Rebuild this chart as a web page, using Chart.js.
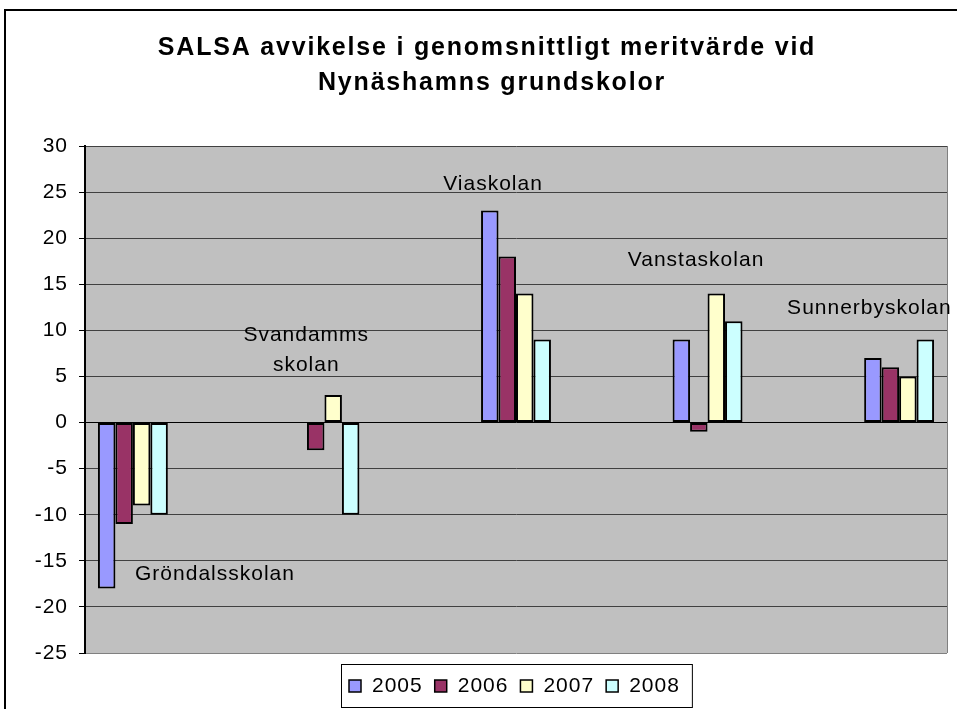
<!DOCTYPE html>
<html>
<head>
<meta charset="utf-8">
<script src="https://cdn.jsdelivr.net/npm/chart.js@4.4.1/dist/chart.umd.min.js"></script>
<style>
  html, body { margin: 0; padding: 0; background: #fff; }
  #wrap { width: 957px; height: 709px; }
</style>
</head>
<body>
<div id="wrap"><canvas id="c" width="957" height="709"></canvas></div>
<script>
// ---- data ----
const titleLines = ['SALSA avvikelse i genomsnittligt meritvärde vid', 'Nynäshamns grundskolor'];
const categories = ['Gröndalsskolan', '', 'Svandammsskolan', '', 'Viaskolan', '', 'Vanstaskolan', '', 'Sunnerbyskolan'];
const seriesNames = ['2005', '2006', '2007', '2008'];
const values2005 = [-18, null, null, null, 23, null, 9, null, 7];
const values2006 = [-11, null, -3, null, 18, null, -1, null, 6];
const values2007 = [-9, null, 3, null, 14, null, 14, null, 5];
const values2008 = [-10, null, -10, null, 9, null, 11, null, 9];
const yMin = -25, yMax = 30, yStep = 5;

// in-plot category labels (text lines, anchor category, offset in category units, y values of line centres)
const plotLabels = [
  { lines: ['Gröndalsskolan'], cat: 0, dx: 0.857, y: [-16.5] },
  { lines: ['Svandamms', 'skolan'], cat: 2, dx: -0.19, y: [9.5, 6.2] },
  { lines: ['Viaskolan'], cat: 4, dx: -0.24, y: [25.9] },
  { lines: ['Vanstaskolan'], cat: 6, dx: -0.12, y: [17.6] },
  { lines: ['Sunnerbyskolan'], cat: 8, dx: -0.31, y: [12.4] }
];

const colors = ['#9999FF', '#993366', '#FFFFCC', '#CCFFFF'];
const FONT = "'Liberation Sans', Arial, sans-serif";

const decor = {
  id: 'decor',
  beforeDraw(chart) {
    const ctx = chart.ctx, a = chart.chartArea;
    ctx.save();
    ctx.fillStyle = '#fff';
    ctx.fillRect(0, 0, chart.width, chart.height);
    ctx.fillStyle = '#C0C0C0';
    ctx.fillRect(a.left, a.top, a.right - a.left, a.bottom - a.top);
    ctx.restore();
    ctx.letterSpacing = '1px';
  },
  beforeDatasetsDraw(chart) {
    const ctx = chart.ctx, a = chart.chartArea;
    ctx.save();
    ctx.strokeStyle = '#808080';
    ctx.lineWidth = 1;
    ctx.beginPath();
    ctx.moveTo(Math.round(a.right) + 0.5, a.top);
    ctx.lineTo(Math.round(a.right) + 0.5, a.bottom);
    ctx.stroke();
    ctx.restore();
  },
  afterDraw(chart) {
    const ctx = chart.ctx, a = chart.chartArea;
    const xs = chart.scales.x, ys = chart.scales.y;
    ctx.save();
    // outer chart border
    ctx.strokeStyle = '#000';
    ctx.lineWidth = 2;
    ctx.strokeRect(5, 10, 1000, 800);

    // title
    ctx.fillStyle = '#000';
    ctx.textAlign = 'center';
    ctx.textBaseline = 'middle';
    ctx.font = 'bold 25px ' + FONT;
    ctx.letterSpacing = '1.8px';
    ctx.fillText(titleLines[0], 487, 48);
    ctx.fillText(titleLines[1], 492, 83);

    // in-plot labels
    ctx.font = '21px ' + FONT;
    ctx.letterSpacing = '1px';
    plotLabels.forEach(l => {
      const x = xs.getPixelForValue(l.cat + l.dx);
      l.lines.forEach((t, i) => ctx.fillText(t, x, ys.getPixelForValue(l.y[i])));
    });

    // legend
    ctx.font = '21px ' + FONT;
    ctx.textAlign = 'left';
    const ds = chart.data.datasets;
    let total = 8;
    const widths = ds.map(d => ctx.measureText(d.label).width);
    widths.forEach(w => total += 23 + w + 12);
    const cx = (a.left + a.right) / 2;
    const left = Math.round(cx - total / 2);
    const top = 664, h = 43;
    ctx.fillStyle = '#fff';
    ctx.fillRect(left, top, total, h);
    ctx.strokeStyle = '#000';
    ctx.lineWidth = 1;
    ctx.strokeRect(left + 0.5, top + 0.5, total, h);
    let x = left + 8;
    ds.forEach((d, i) => {
      ctx.fillStyle = d.backgroundColor;
      ctx.fillRect(x, 680, 12, 12);
      ctx.lineWidth = 1.5;
      ctx.strokeStyle = '#000';
      ctx.strokeRect(x, 680, 12, 12);
      ctx.fillStyle = '#000';
      ctx.fillText(d.label, x + 23, 686);
      x += 23 + widths[i] + 12;
    });
    ctx.restore();
  }
};

const seriesValues = [values2005, values2006, values2007, values2008];
new Chart(document.getElementById('c'), {
  type: 'bar',
  data: {
    labels: categories,
    datasets: seriesNames.map((n, i) => ({
      label: n,
      data: seriesValues[i],
      backgroundColor: colors[i],
      borderColor: '#000',
      borderWidth: 2,
      borderSkipped: false,
      categoryPercentage: 0.73,
      barPercentage: 1.0
    }))
  },
  options: {
    responsive: false,
    animation: false,
    devicePixelRatio: 1,
    layout: { padding: { left: 0, top: 146, right: 10, bottom: 56 } },
    plugins: { legend: { display: false }, title: { display: false }, tooltip: { enabled: false } },
    scales: {
      x: { display: false, offset: true },
      y: {
        min: yMin, max: yMax,
        afterFit(scale) { scale.width = 85; },
        ticks: { stepSize: yStep, color: '#000', font: { family: FONT, size: 21 }, padding: 11 },
        grid: {
          color: c => c.tick.value === 0 ? '#000' : (c.tick.value === yMin ? '#808080' : '#404040'),
          lineWidth: 1,
          tickLength: 6,
          tickColor: '#000',
          drawTicks: true
        },
        border: { display: true, color: '#000', width: 2 }
      }
    }
  },
  plugins: [decor]
});
</script>
</body>
</html>
